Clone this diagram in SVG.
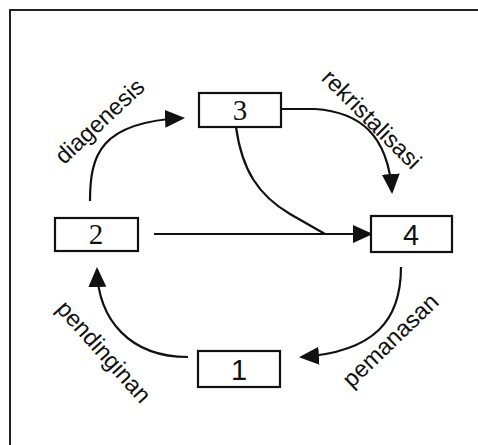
<svg xmlns="http://www.w3.org/2000/svg" width="478" height="445" viewBox="0 0 478 445">
<style>
.box{fill:#fff;stroke:#111;stroke-width:2.2}
.num{font-size:29px;fill:#111;text-anchor:middle}
.serif{font-family:"Liberation Serif","Times New Roman",serif}
.sans{font-family:"Liberation Sans",Arial,sans-serif}
.lbl{font-family:"Liberation Sans",Arial,sans-serif;font-size:23.5px;fill:#111;text-anchor:middle}
.con{fill:none;stroke:#111;stroke-width:2.2}
.arr{marker-end:url(#ah)}
</style>
<defs>
<marker id="ah" viewBox="0 0 20 18" refX="18" refY="9" markerWidth="20" markerHeight="18" markerUnits="userSpaceOnUse" orient="auto">
<path d="M0,0 L20,9 L0,18 z" fill="#111"/>
</marker>
</defs>
<rect width="478" height="445" fill="#fff"/>
<g id="frame" fill="none" stroke="#222" stroke-width="2">
<path d="M10,445 L10,10 L478,10"/>
</g>
<g id="connectors">
<path class="con arr" d="M90,201 C90,155 100,122 183,118"/>
<path class="con arr" d="M281,109 L315,109 C360,112 388,135 392,192"/>
<path class="con" d="M236,127 C242,170 258,195 290,214 L325,234"/>
<path class="con arr" d="M154,234 L371,234"/>
<path class="con arr" d="M401,267 C401,320 375,352 301,357"/>
<path class="con arr" d="M188,357 C130,357 98,320 97,269"/>
</g>
<g id="labels">
<text class="lbl" transform="translate(105,127) rotate(-43)">diagenesis</text>
<text class="lbl" transform="translate(366,125) rotate(45)">rekristalisasi</text>
<text class="lbl" transform="translate(396,346) rotate(-44)">pemanasan</text>
<text class="lbl" transform="translate(98,357) rotate(48)">pendinginan</text>
</g>
<g id="node3">
<rect class="box" x="199" y="93" width="82" height="34"/>
<text class="num serif" x="240" y="120">3</text>
</g>
<g id="node2">
<rect class="box" x="55" y="218" width="83" height="33"/>
<text class="num serif" x="96" y="244">2</text>
</g>
<g id="node4">
<rect class="box" x="371" y="216" width="81" height="36"/>
<text class="num sans" x="411" y="245">4</text>
</g>
<g id="node1">
<rect class="box" x="198" y="351" width="82" height="36"/>
<text class="num sans" x="239" y="380">1</text>
</g>
</svg>
